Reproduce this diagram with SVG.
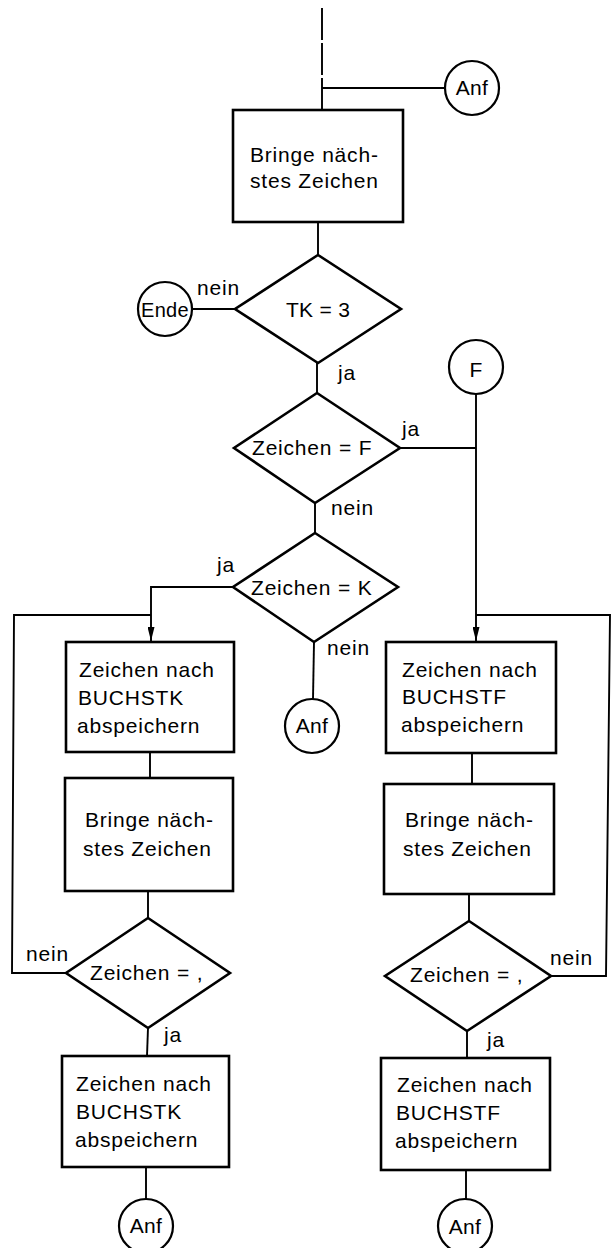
<svg xmlns="http://www.w3.org/2000/svg" width="613" height="1248" viewBox="0 0 613 1248">
<style>
.box{fill:none;stroke:#000;stroke-width:2.6}
.dia{fill:none;stroke:#000;stroke-width:2.6;stroke-linejoin:miter}
.circ{fill:none;stroke:#000;stroke-width:2.2}
.ln{fill:none;stroke:#000;stroke-width:1.9}
text{font-family:"Liberation Sans","DejaVu Sans",sans-serif;font-size:21px;letter-spacing:0.8px;fill:#000}
.c{text-anchor:middle;letter-spacing:0.3px}
</style>
<defs>
<marker id="arr" markerUnits="userSpaceOnUse" markerWidth="14" markerHeight="7" refX="14" refY="3.5" orient="auto">
<path d="M0,0 L14,3.5 L0,7 Z" fill="#000"/>
</marker>
</defs>
<rect width="613" height="1248" fill="#fff"/>

<g id="connectors">
<path class="ln" d="M322,8 L322,88" stroke-dasharray="32 3"/>
<path class="ln" d="M322,88 L322,110"/>
<path class="ln" d="M322,88 L445,88"/>
<path class="ln" d="M318,222 L318,255"/>
<path class="ln" d="M192,309 L235,309"/>
<path class="ln" d="M317,363 L317,393"/>
<path class="ln" d="M400,448 L476,448"/>
<path class="ln" d="M476,394 L476,641" marker-end="url(#arr)"/>
<path class="ln" d="M315,503 L315,533"/>
<path class="ln" d="M233,587 L151,587 L151,641" marker-end="url(#arr)"/>
<path class="ln" d="M314,642 L313,699"/>
<path class="ln" d="M66,973 L12,973 L14,615 L151,615"/>
<path class="ln" d="M551,976 L606,976 L610,615 L476,615"/>
<path class="ln" d="M150,752 L150,778"/>
<path class="ln" d="M148,891 L148,918"/>
<path class="ln" d="M148,1028 L147,1056"/>
<path class="ln" d="M146,1167 L146,1199"/>
<path class="ln" d="M472,753 L472,784"/>
<path class="ln" d="M469,894 L469,921"/>
<path class="ln" d="M467,1031 L467,1058"/>
<path class="ln" d="M466,1170 L466,1199"/>
<text x="197" y="295">nein</text>
<text x="338" y="380">ja</text>
<text x="402" y="436">ja</text>
<text x="331" y="515">nein</text>
<text x="217" y="572">ja</text>
<text x="327" y="655">nein</text>
<text x="26" y="961">nein</text>
<text x="550" y="965">nein</text>
<text x="164" y="1042">ja</text>
<text x="487" y="1047">ja</text>
</g>

<g id="anf-top">
<circle class="circ" cx="472" cy="88" r="27"/>
<text class="c" x="472" y="95">Anf</text>
</g>

<g id="box-bringe-top">
<rect class="box" x="233" y="110" width="170" height="112"/>
<text x="250" y="162">Bringe näch-</text>
<text x="250" y="188">stes Zeichen</text>
</g>

<g id="dia-tk">
<polygon class="dia" points="318,255 401,309 318,363 235,309"/>
<text class="c" x="318" y="317">TK = 3</text>
</g>

<g id="ende">
<circle class="circ" cx="165" cy="309" r="27"/>
<text class="c" x="165" y="317" style="font-size:20px">Ende</text>
</g>

<g id="f-conn">
<circle class="circ" cx="476" cy="367" r="27"/>
<text class="c" x="476" y="377">F</text>
</g>

<g id="dia-f">
<polygon class="dia" points="317,393 400,448 315,503 234,448"/>
<text x="252" y="455">Zeichen = F</text>
</g>

<g id="dia-k">
<polygon class="dia" points="315,533 398,587 314,642 233,587"/>
<text x="251" y="595">Zeichen = K</text>
</g>

<g id="anf-mid">
<circle class="circ" cx="312" cy="726" r="27"/>
<text class="c" x="312" y="733">Anf</text>
</g>

<g id="box-l1">
<rect class="box" x="66" y="642" width="168" height="110"/>
<text x="79" y="677">Zeichen nach</text>
<text x="78" y="705">BUCHSTK</text>
<text x="77" y="733">abspeichern</text>
</g>

<g id="box-l2">
<rect class="box" x="65" y="778" width="168" height="113"/>
<text x="85" y="827">Bringe näch-</text>
<text x="83" y="856">stes Zeichen</text>
</g>

<g id="dia-l">
<polygon class="dia" points="148,918 230,973 148,1028 66,973"/>
<text x="90" y="980">Zeichen = ,</text>
</g>

<g id="box-l3">
<rect class="box" x="62" y="1056" width="167" height="111"/>
<text x="76" y="1091">Zeichen nach</text>
<text x="76" y="1119">BUCHSTK</text>
<text x="75" y="1147">abspeichern</text>
</g>

<g id="anf-l">
<circle class="circ" cx="146" cy="1226" r="27"/>
<text class="c" x="146" y="1233">Anf</text>
</g>

<g id="box-r1">
<rect class="box" x="386" y="642" width="170" height="111"/>
<text x="402" y="677">Zeichen nach</text>
<text x="402" y="704">BUCHSTF</text>
<text x="401" y="732">abspeichern</text>
</g>

<g id="box-r2">
<rect class="box" x="384" y="784" width="170" height="110"/>
<text x="405" y="827">Bringe näch-</text>
<text x="403" y="856">stes Zeichen</text>
</g>

<g id="dia-r">
<polygon class="dia" points="469,921 551,976 467,1031 385,976"/>
<text x="410" y="982">Zeichen = ,</text>
</g>

<g id="box-r3">
<rect class="box" x="381" y="1058" width="169" height="112"/>
<text x="397" y="1092">Zeichen nach</text>
<text x="396" y="1120">BUCHSTF</text>
<text x="395" y="1148">abspeichern</text>
</g>

<g id="anf-r">
<circle class="circ" cx="465" cy="1226" r="27"/>
<text class="c" x="465" y="1234">Anf</text>
</g>
</svg>
